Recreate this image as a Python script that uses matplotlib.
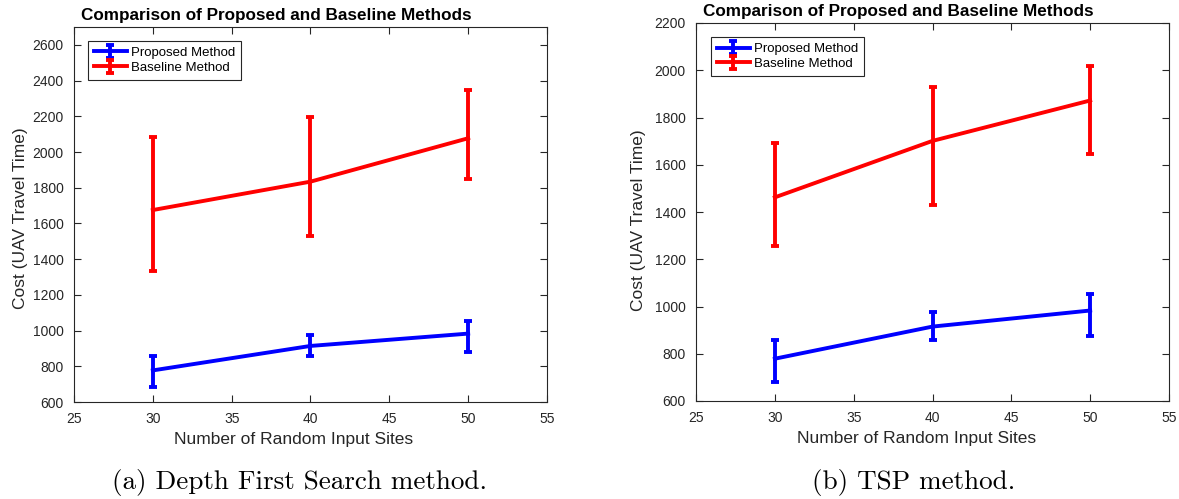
import matplotlib
matplotlib.use("Agg")
import matplotlib.pyplot as plt

# data
sites = [30, 40, 50]

# (a) depth first search
dfs_prop = [777, 914, 983]
dfs_prop_lo = [684, 860, 878]
dfs_prop_hi = [856, 976, 1054]
dfs_base = [1675, 1834, 2077]
dfs_base_lo = [1332, 1531, 1847]
dfs_base_hi = [2086, 2198, 2346]

# (b) TSP
tsp_prop = [779, 915, 983]
tsp_prop_lo = [679, 860, 877]
tsp_prop_hi = [857, 976, 1052]
tsp_base = [1462, 1701, 1872]
tsp_base_lo = [1254, 1430, 1647]
tsp_base_hi = [1691, 1931, 2020]

plt.rcParams["font.family"] = ["Liberation Sans", "DejaVu Sans"]
DARK = "#262626"


def panel(ax, prop, plo, phi, base, blo, bhi, ylim, yticks):
    for y, lo, hi, col, lab in [(prop, plo, phi, "#0000ff", "Proposed Method"),
                                (base, blo, bhi, "#ff0000", "Baseline Method")]:
        err = [[v - l for v, l in zip(y, lo)], [h - v for v, h in zip(y, hi)]]
        ax.errorbar(sites, y, yerr=err, color=col, lw=2.8, elinewidth=2.8,
                    capsize=3, capthick=2.8, label=lab)
    ax.set_xlim(25, 55)
    ax.set_xticks(range(25, 56, 5))
    ax.set_ylim(*ylim)
    ax.set_yticks(yticks)
    ax.tick_params(direction="in", top=True, right=True, length=5, width=0.8,
                   labelsize=10, colors=DARK, labelcolor=DARK, pad=7.5)
    for s in ax.spines.values():
        s.set_color(DARK)
        s.set_linewidth(0.8)
    ax.set_xlabel("Number of Random Input Sites", fontsize=12.5, color=DARK)
    ax.set_ylabel("Cost (UAV Travel Time)", fontsize=12.5, color=DARK)
    ax.set_title("Comparison of Proposed and Baseline Methods", fontsize=12.3,
                 fontweight="bold", x=0.428, y=1.019, pad=0)


fig = plt.figure(figsize=(11.79, 4.99), dpi=100)
ax1 = fig.add_axes([74 / 1179, 1 - 402 / 499, 473 / 1179, 375 / 499])
ax2 = fig.add_axes([696 / 1179, 1 - 401 / 499, 473 / 1179, 378 / 499])

panel(ax1, dfs_prop, dfs_prop_lo, dfs_prop_hi, dfs_base, dfs_base_lo, dfs_base_hi,
      (600, 2700), range(600, 2601, 200))
panel(ax2, tsp_prop, tsp_prop_lo, tsp_prop_hi, tsp_base, tsp_base_lo, tsp_base_hi,
      (600, 2200), range(600, 2201, 200))

for ax, lx, ly in [(ax1, 0.0296, 0.963), (ax2, 0.0317, 0.963)]:
    leg = ax.legend(loc="upper left", bbox_to_anchor=(lx, ly), fontsize=9.5,
                    fancybox=False, edgecolor=DARK, framealpha=1, borderpad=0.45,
                    handlelength=2.5, handletextpad=0.3, labelspacing=0.2,
                    borderaxespad=0)
    leg.get_frame().set_linewidth(0.8)

ax1.yaxis.set_label_coords(-0.097, 0.489)
ax2.yaxis.set_label_coords(-0.106, 0.479)
ax1.xaxis.set_label_coords(0.465, -0.08)
ax2.xaxis.set_label_coords(0.466, -0.08)

fig.text(300 / 1179, 1 - 483 / 499, "(a) Depth First Search method.",
         family=["cmr10", "DejaVu Serif"], fontsize=19.5, ha="center", va="center")
fig.text(914 / 1179, 1 - 483 / 499, "(b) TSP method.",
         family=["cmr10", "DejaVu Serif"], fontsize=19.5, ha="center", va="center")

fig.savefig("out.png", dpi=100)
